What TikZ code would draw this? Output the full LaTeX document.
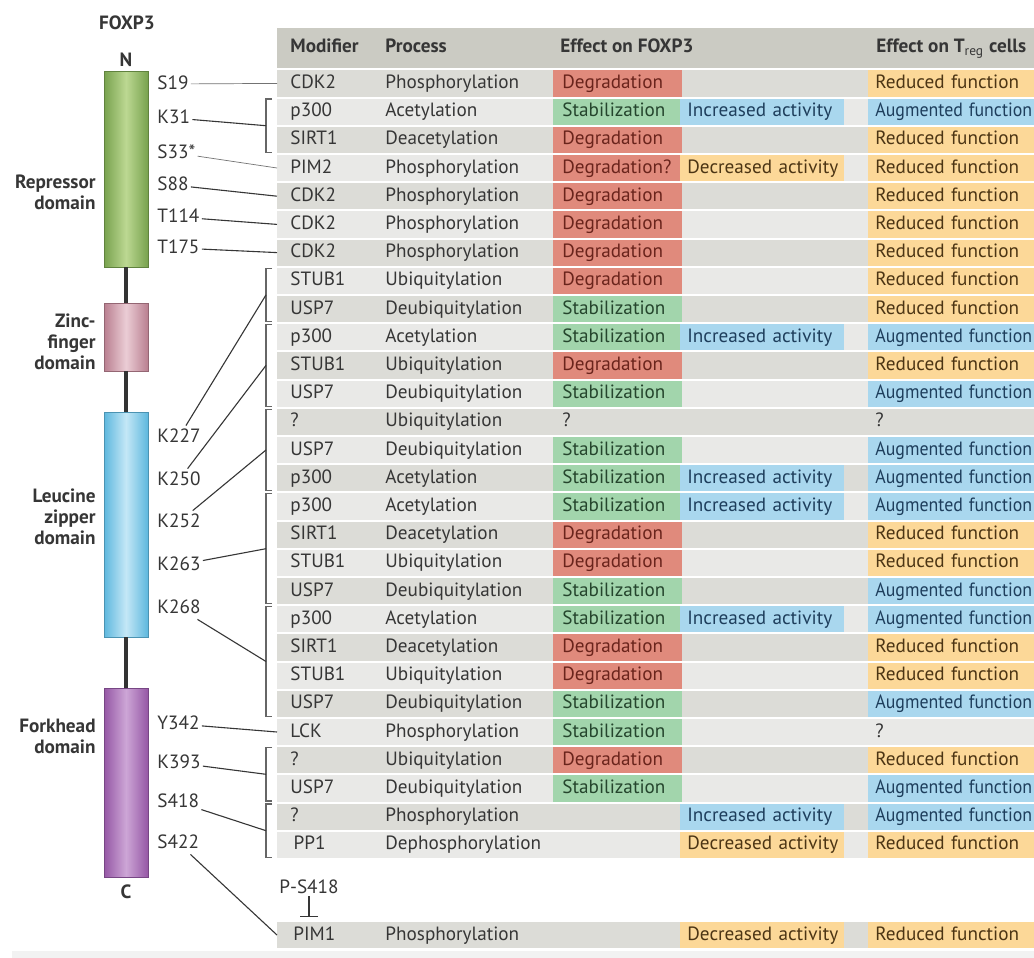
\documentclass[tikz,border=0pt]{standalone}
\usepackage{fontspec}
\setmainfont{PT Sans}
\usepackage{graphicx}
\usepackage{tikz}
\usetikzlibrary{arrows.meta,calc}
\definecolor{ink}{HTML}{363636}
\definecolor{hdfill}{HTML}{CBCBC3}
\definecolor{rowdark}{HTML}{DCDCD7}
\definecolor{rowlight}{HTML}{E9E9E7}
\definecolor{degfill}{HTML}{E08A7C}
\definecolor{degtext}{HTML}{6A241C}
\definecolor{stabfill}{HTML}{A2D5AC}
\definecolor{stabtext}{HTML}{25452D}
\definecolor{upfill}{HTML}{A9D7EE}
\definecolor{uptext}{HTML}{1E3E5C}
\definecolor{downfill}{HTML}{FCD898}
\definecolor{downtext}{HTML}{4C3514}
\definecolor{repdark}{HTML}{78A24E}
\definecolor{replight}{HTML}{BCD892}
\definecolor{zfdark}{HTML}{B97F90}
\definecolor{zflight}{HTML}{EBCDD5}
\definecolor{lzdark}{HTML}{5EB8DE}
\definecolor{lzlight}{HTML}{C4E7F6}
\definecolor{fhdark}{HTML}{9557A5}
\definecolor{fhlight}{HTML}{CDA6D6}
\newcommand\augfn{\scalebox{0.93}[1]{Augmented function}}
\tikzset{
  every node/.style={font=\fontsize{9.6}{11}\selectfont, text=ink, inner sep=1pt},
  txt/.style={anchor=west, text height=7pt, text depth=2pt},
  hdr/.style={txt, font=\fontsize{9.6}{11}\selectfont\bfseries},
  site/.style={txt},
  dlabel/.style={anchor=east, align=right, font=\fontsize{9.6}{10.5}\selectfont\bfseries},
  term/.style={font=\fontsize{9.6}{11}\selectfont\bfseries},
  cell/.style={txt, minimum height=13.1pt},
  cellA/.style={cell, inner xsep=4.5pt, text width=55.5pt},
  cellB/.style={cell, inner xsep=3.5pt, text width=75pt},
  cellC/.style={cell, inner xsep=3.5pt, text width=76pt},
  deg/.style={fill=degfill, text=degtext},
  stab/.style={fill=stabfill, text=stabtext},
  up/.style={fill=upfill, text=uptext},
  down/.style={fill=downfill, text=downtext},
  plain/.style={},
  domain/.style={draw=#1dark!80!black, line width=0.4pt, minimum width=22pt,
    inner sep=0pt, left color=#1dark, right color=#1dark, middle color=#1light},
  stem/.style={draw=black!80, line width=1.6pt},
  link/.style={draw=ink, line width=0.55pt},
  thinlink/.style={draw=black!55, line width=0.35pt},
  bracket/.style={draw=black!60, line width=0.55pt},
  inhibit/.style={draw=ink, line width=0.55pt, -{Bar[width=9pt]}, shorten >=3.5pt},
}

\begin{document}
\begin{tikzpicture}[x=0.5pt,y=-0.5pt]
\useasboundingbox (0,0) rectangle (1034,958);
\fill[white] (0,0) rectangle (1034,958);
\fill[black!5] (12,951) rectangle (1034,958);

\node[term] (foxp3) at (127,23) {FOXP3};
\node[term] (nterm) at (126,60) {N};
\node[term] (cterm) at (126,892) {C};
\node[domain=rep, minimum height=98pt] (rep) at (126,169) {};
\node[domain=zf, minimum height=34pt] (zf) at (126,337) {};
\node[domain=lz, minimum height=112.5pt] (lz) at (126,524.5) {};
\node[domain=fh, minimum height=94.5pt] (fh) at (126,782.5) {};
\draw[stem] (rep) -- (zf);
\draw[stem] (zf) -- (lz);
\draw[stem] (lz) -- (fh);
\node[dlabel] at (98,192) {Repressor\\domain};
\node[dlabel] at (98,342) {Zinc-\\finger\\domain};
\node[dlabel] at (98,517) {Leucine\\zipper\\domain};
\node[dlabel] at (98,736) {Forkhead\\domain};

\fill[hdfill] (277,28) rectangle (1034,68);
\node[hdr] at (288,48) {Modifier};
\node[hdr] at (383,48) {Process};
\node[hdr] at (558,48) {Effect on FOXP3};
\node[hdr] at (874,48) {Effect on T\textsubscript{\mdseries reg} cells};

\foreach \i/\mo/\pr/\ta/\xa/\tb/\xb/\tc/\xc in {
  0/CDK2/Phosphorylation/deg/Degradation/plain/{}/down/Reduced function,
  1/p300/Acetylation/stab/Stabilization/up/Increased activity/up/\augfn,
  2/SIRT1/Deacetylation/deg/Degradation/plain/{}/down/Reduced function,
  3/PIM2/Phosphorylation/deg/Degradation?/down/Decreased activity/down/Reduced function,
  4/CDK2/Phosphorylation/deg/Degradation/plain/{}/down/Reduced function,
  5/CDK2/Phosphorylation/deg/Degradation/plain/{}/down/Reduced function,
  6/CDK2/Phosphorylation/deg/Degradation/plain/{}/down/Reduced function,
  7/STUB1/Ubiquitylation/deg/Degradation/plain/{}/down/Reduced function,
  8/USP7/Deubiquitylation/stab/Stabilization/plain/{}/down/Reduced function,
  9/p300/Acetylation/stab/Stabilization/up/Increased activity/up/\augfn,
  10/STUB1/Ubiquitylation/deg/Degradation/plain/{}/down/Reduced function,
  11/USP7/Deubiquitylation/stab/Stabilization/plain/{}/up/\augfn,
  12/?/Ubiquitylation/plain/?/plain/{}/plain/?,
  13/USP7/Deubiquitylation/stab/Stabilization/plain/{}/up/\augfn,
  14/p300/Acetylation/stab/Stabilization/up/Increased activity/up/\augfn,
  15/p300/Acetylation/stab/Stabilization/up/Increased activity/up/\augfn,
  16/SIRT1/Deacetylation/deg/Degradation/plain/{}/down/Reduced function,
  17/STUB1/Ubiquitylation/deg/Degradation/plain/{}/down/Reduced function,
  18/USP7/Deubiquitylation/stab/Stabilization/plain/{}/up/\augfn,
  19/p300/Acetylation/stab/Stabilization/up/Increased activity/up/\augfn,
  20/SIRT1/Deacetylation/deg/Degradation/plain/{}/down/Reduced function,
  21/STUB1/Ubiquitylation/deg/Degradation/plain/{}/down/Reduced function,
  22/USP7/Deubiquitylation/stab/Stabilization/plain/{}/up/\augfn,
  23/LCK/Phosphorylation/stab/Stabilization/plain/{}/plain/?,
  24/?/Ubiquitylation/deg/Degradation/plain/{}/down/Reduced function,
  25/USP7/Deubiquitylation/stab/Stabilization/plain/{}/up/\augfn,
  26/?/Phosphorylation/plain/{}/up/Increased activity/up/\augfn,
  27/\,PP1/Dephosphorylation/plain/{}/down/Decreased activity/down/Reduced function}
{
  \pgfmathsetmacro\yc{83.4+28.2*\i}
  \ifodd\i\def\rowcol{rowlight}\else\def\rowcol{rowdark}\fi
  \fill[\rowcol] (277,\yc-13.1) rectangle (1034,\yc+13.1);
  \coordinate (r\i) at (277,\yc);
  \node[txt] (m\i) at (288,\yc) {\mo};
  \node[txt] (p\i) at (383,\yc) {\pr};
  \node[cellA,\ta] (a\i) at (553,\yc) {\mbox{\xa}};
  \node[cellB,\tb] (b\i) at (680,\yc) {\mbox{\xb}};
  \node[cellC,\tc] (c\i) at (868,\yc) {\mbox{\xc}};
}

\fill[rowdark] (277,922) rectangle (1034,948);
\coordinate (rpim) at (277,935);
\node[txt] (pim1) at (291,935) {PIM1};
\node[txt] (ppim) at (383,935) {Phosphorylation};
\node[cellB,down] (bpim) at (680,935) {\mbox{Decreased activity}};
\node[cellC,down] (cpim) at (868,935) {\mbox{Reduced function}};
\node (ps418) at (309,887) {P-S418};
\draw[inhibit] (ps418.south) -- (ps418.south |- pim1.north);

\foreach \a/\b/\s in {1/2/K31, 7/8/K227, 9/11/K250, 12/14/K252,
  15/18/K263, 19/22/K268, 24/25/K393, 26/27/S418}
{
  \pgfmathsetmacro\ytop{69.3+28.2*\a+1.5}
  \pgfmathsetmacro\ybot{69.3+28.2*(\b+1)-1.5}
  \draw[bracket] (272,\ytop) -- (266,\ytop) -- (266,\ybot) -- (272,\ybot);
  \coordinate (br\s) at (266,{(\ytop+\ybot)/2});
}

\foreach \nm/\lab/\y in {S19/S19/84, K31/K31/118, S33/S33*/153, S88/S88/185,
  T114/T114/217, T175/T175/248, K227/K227/437, K250/K250/480, K252/K252/522,
  K263/K263/565, K268/K268/608, Y342/Y342/724, K393/K393/763, S418/S418/802,
  S422/S422/843}
  \node[site] (\nm) at (155,\y) {\lab};

\foreach \s/\t/\st in {S19/r0/thinlink, K31/brK31/link, S33/r3/thinlink,
  S88/r4/link, T114/r5/link, T175/r6/link, K227/brK227/link, K250/brK250/link,
  K252/brK252/link, K263/brK263/link, K268/brK268/link, Y342/r23/link,
  K393/brK393/link, S418/brS418/link, S422/rpim/link}
  \draw[\st] (\s) -- (\t);
\end{tikzpicture}
\end{document}
